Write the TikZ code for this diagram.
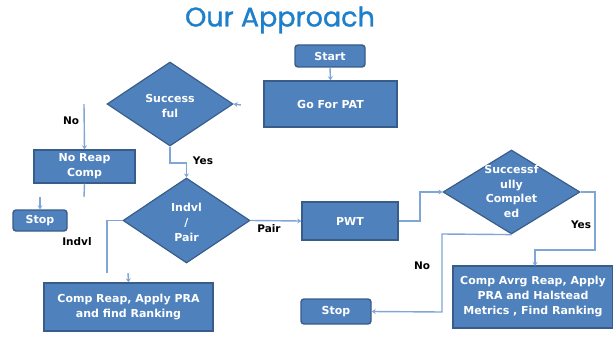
\documentclass[tikz,border=0pt]{standalone}
\usepackage{fontspec}
\setmainfont{DejaVu Sans}
\newfontfamily\titlefont[FakeBold=1.2]{Poppins}
\usetikzlibrary{shapes.geometric,arrows.meta}
\definecolor{boxfill}{HTML}{4F81BD}
\definecolor{boxline}{HTML}{385D8A}
\definecolor{conn}{HTML}{7FA6D6}
\definecolor{titleblue}{HTML}{1E7FCB}
\tikzset{
  box/.style={draw=boxline, line width=1.4pt, fill=boxfill, text=white, font=\bfseries\fontsize{11}{15}\selectfont, align=center, inner sep=0pt, anchor=center},
  rbox/.style={box, rounded corners=3pt},
  dia/.style={draw=boxline, line width=1.2pt, fill=boxfill, diamond, inner sep=0pt},
  dtext/.style={text=white, font=\bfseries\fontsize{11}{15}\selectfont, align=center},
  conline/.style={draw=conn, line width=1.4pt},
  conarrow/.style={conline, -{Stealth[length=4pt,width=5pt]}},
  lab/.style={font=\bfseries\fontsize{10.5}{13}\selectfont, text=black},
}
\begin{document}
\begin{tikzpicture}[x=1pt,y=-1pt]
\useasboundingbox (0,0) rectangle (613,337);
% title
\node[font=\titlefont\fontsize{27}{30}\selectfont, text=titleblue] (title) at (280,20) {Our Approach};
% nodes
\node[rbox, minimum width=70, minimum height=22] (start) at (330,56) {Start};
\node[box, minimum width=133, minimum height=46] (pat) at (330.5,104) {Go For PAT};
\node[dia, minimum width=126, minimum height=84] (succ) at (170,104) {};
\node[dtext] (succt) at (170,106) {Success\\ful};
\node[box, minimum width=101, minimum height=33] (noreap) at (84.5,166.5) {No Reap\\Comp};
\node[rbox, minimum width=54, minimum height=21] (stop1) at (40,220.5) {Stop};
\node[dia, minimum width=127, minimum height=85] (ip) at (186.5,220.5) {};
\node[dtext] (ipt) at (186.5,222) {Indvl\\/\\Pair};
\node[box, minimum width=169, minimum height=48] (compreap) at (128.5,307) {Comp Reap, Apply PRA\\and find Ranking};
\node[box, minimum width=96, minimum height=38] (pwt) at (350,221) {PWT};
\node[dia, minimum width=137, minimum height=84] (sc) at (511.5,192) {};
\node[dtext, font=\bfseries\fontsize{11}{14.5}\selectfont] (sct) at (511.5,191.5) {Successf\\ully\\Complet\\ed};
\node[box, minimum width=160, minimum height=62] (avrg) at (533,297) {Comp Avrg Reap, Apply\\PRA and Halstead\\Metrics , Find Ranking};
\node[rbox, minimum width=70, minimum height=25] (stop2) at (336,311.5) {Stop};
% free ends
\coordinate (c1) at (241,105);
\coordinate (c2) at (84,104);
\coordinate (c3) at (84,197);
\coordinate (c4) at (40,197);
\coordinate (c5) at (107,273);
\coordinate (c6) at (128,273);
% connectors
\draw[conarrow] (start.south) -- (pat.north);
\draw[conarrow] (c1) -- (succ.east);
\draw[conarrow] (c2) -- (noreap.north);
\draw[conline] (noreap.south) -- (c3);
\draw[conarrow] (c4) -- (stop1.north);
\draw[conarrow] (succ.south) -- (170,163) -- (186.5,163) -- (ip.north);
\draw[conline] (ip.west) -- (107,220.5) -- (c5);
\draw[conarrow] (c6) -- (compreap.north);
\draw[conarrow] (ip.east) -- (pwt.west);
\draw[conarrow] (pwt.east) -- (420,221) -- (420,192) -- (sc.west);
\draw[conarrow] (sc.east) -- (595,192) -- (595,250) -- (535,250) -- (535,266);
\draw[conarrow] (sc.south) -- (442,234) -- (442,312) -- (stop2.east);
% labels
\node[lab] (lno1) at (71,121) {No};
\node[lab] (lyes1) at (203,161) {Yes};
\node[lab] (lindvl) at (77,242) {Indvl};
\node[lab] (lpair) at (269,229) {Pair};
\node[lab] (lyes2) at (581,225) {Yes};
\node[lab] (lno2) at (422,266) {No};
\end{tikzpicture}
\end{document}
